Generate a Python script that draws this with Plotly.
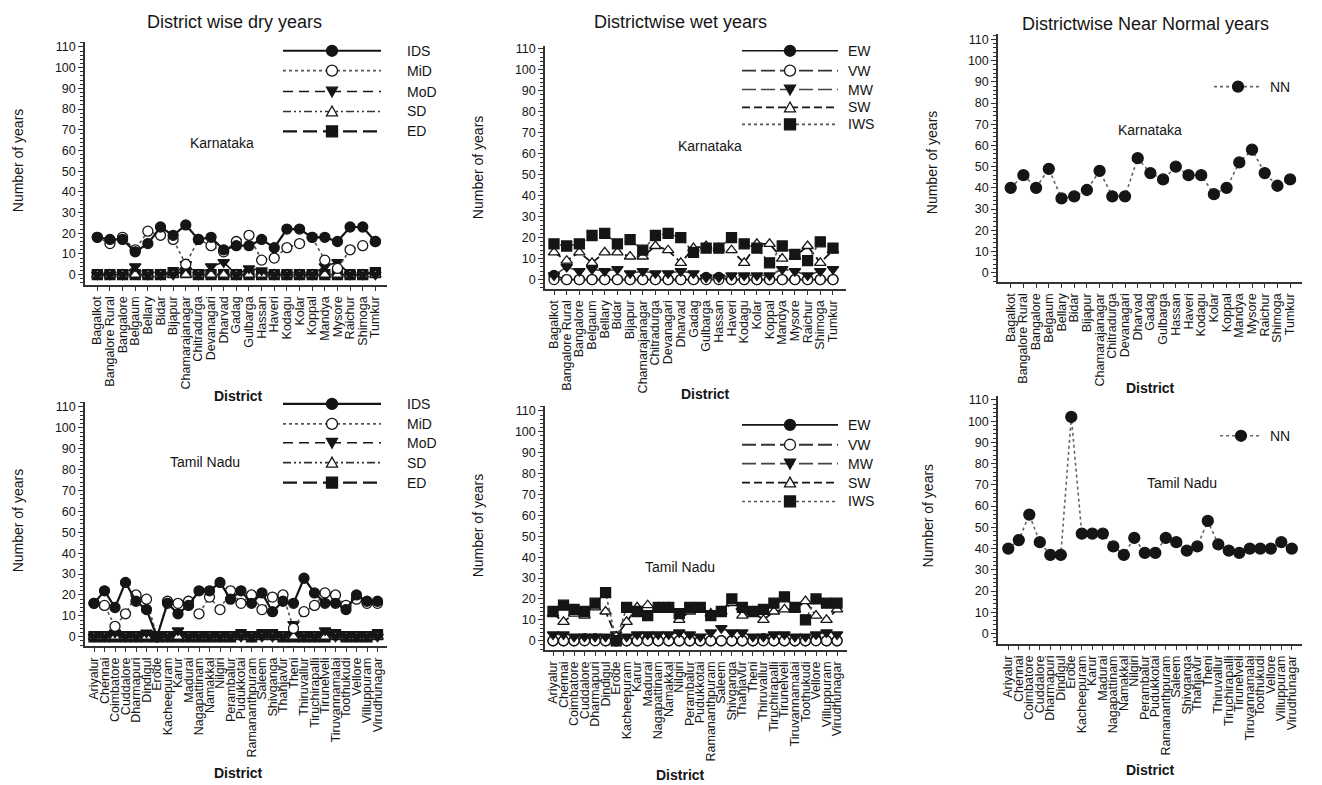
import plotly.graph_objects as go

W, H = 1322, 785

# ---------------- data ----------------
ka_districts = ["Bagalkot", "Bangalore Rural", "Bangalore", "Belgaum", "Bellary", "Bidar", "Bijapur",
                "Chamarajanagar", "Chitradurga", "Devanagari", "Dharvad", "Gadag", "Gulbarga", "Hassan",
                "Haveri", "Kodagu", "Kolar", "Koppal", "Mandya", "Mysore", "Raichur", "Shimoga", "Tumkur"]
tn_districts = ["Ariyalur", "Chennai", "Coimbatore", "Cuddalore", "Dharmapuri", "Dindigul", "Erode",
                "Kacheepuram", "Karur", "Madurai", "Nagapattinam", "Namakkal", "Nilgiri", "Perambalur",
                "Pudukkotai", "Ramananthpuram", "Saleem", "Shivganga", "Thanjavur", "Theni", "Thiruvallur",
                "Tiruchirapalli", "Tirunelveli", "Tiruvannamalai", "Toothukudi", "Vellore", "Villuppuram",
                "Virudhunagar"]

# Karnataka dry
ka_IDS = [18, 17, 17, 11, 15, 23, 19, 24, 17, 18, 12, 14, 14, 17, 13, 22, 22, 18, 18, 16, 23, 23, 16]
ka_MiD = [18, 15, 18, 12, 21, 19, 17, 5, 17, 14, 11, 16, 19, 7, 8, 13, 15, 18, 7, 3, 12, 14, 16]
ka_MoD = [0, 0, 0, 4, 0, 0, 0, 5, 0, 4, 6, 0, 3, 2, 0, 0, 0, 0, 4, 6, 0, 0, 0]
ka_SD = [0, 0, 0, 0, 0, 0, 0, 0, 0, 0, 0, 0, 0, 0, 0, 0, 0, 0, 0, 0, 0, 0, 0]
ka_ED = [0, 0, 0, 0, 0, 0, 1, 1, 0, 0, 0, 0, 0, 0, 0, 0, 0, 0, 0, 0, 0, 0, 1]
# Karnataka wet
ka_EW = [2, 0, 0, 0, 0, 0, 0, 0, 0, 0, 0, 0, 1, 1, 0, 0, 0, 0, 0, 0, 0, 0, 0]
ka_VW = [0, 0, 0, 0, 0, 0, 0, 0, 0, 0, 0, 0, 0, 0, 0, 0, 0, 0, 0, 0, 0, 0, 0]
ka_MW = [2, 6, 4, 5, 4, 5, 3, 4, 3, 3, 4, 3, 1, 1, 2, 2, 2, 2, 5, 4, 2, 4, 5]
ka_SW = [13, 9, 13, 8, 13, 13, 11, 11, 16, 14, 8, 15, 16, 15, 14, 8, 17, 17, 10, 11, 16, 8, 14]
ka_IWS = [17, 16, 17, 21, 22, 17, 19, 14, 21, 22, 20, 13, 15, 15, 20, 17, 15, 8, 16, 12, 9, 18, 15]
# Karnataka near normal
ka_NN = [40, 46, 40, 49, 35, 36, 39, 48, 36, 36, 54, 47, 44, 50, 46, 46, 37, 40, 52, 58, 47, 41, 44]

# Tamil Nadu dry
tn_IDS = [16, 22, 14, 26, 17, 13, 0, 16, 11, 15, 22, 22, 26, 18, 22, 16, 21, 12, 17, 16, 28, 21, 16, 16, 13, 20, 17, 17]
tn_MiD = [16, 15, 5, 11, 20, 18, 0, 17, 16, 17, 11, 19, 13, 22, 16, 20, 13, 19, 20, 4, 12, 15, 21, 20, 15, 18, 16, 16]
tn_MoD = [0, 0, 2, 0, 0, 2, 0, 0, 3, 0, 0, 0, 0, 0, 0, 0, 0, 0, 0, 6, 0, 0, 3, 0, 0, 0, 0, 0]
tn_SD = [0, 0, 0, 0, 0, 0, 0, 0, 0, 0, 0, 0, 0, 0, 0, 0, 0, 0, 0, 0, 0, 0, 0, 0, 0, 0, 0, 0]
tn_ED = [0, 0, 0, 0, 0, 0, 0, 0, 0, 0, 0, 0, 0, 0, 1, 0, 1, 1, 0, 0, 0, 0, 0, 1, 0, 0, 0, 1]
# Tamil Nadu wet
tn_EW = [0, 0, 0, 1, 1, 0, 0, 0, 0, 1, 0, 0, 0, 0, 0, 0, 0, 0, 0, 0, 1, 0, 0, 0, 0, 1, 0, 0]
tn_VW = [0, 0, 0, 0, 0, 0, 0, 0, 0, 0, 0, 0, 0, 0, 0, 0, 0, 0, 0, 0, 0, 0, 0, 0, 0, 0, 0, 0]
tn_MW = [3, 3, 2, 2, 2, 2, 3, 2, 3, 3, 3, 3, 4, 3, 2, 4, 6, 4, 4, 2, 2, 3, 3, 2, 2, 3, 4, 3]
tn_SW = [13, 9, 13, 12, 16, 14, 2, 9, 16, 17, 16, 16, 10, 14, 15, 13, 14, 18, 12, 14, 10, 14, 15, 15, 19, 12, 10, 15]
tn_IWS = [14, 17, 15, 14, 18, 23, 0, 16, 14, 12, 16, 16, 13, 16, 16, 12, 14, 20, 16, 14, 15, 18, 21, 16, 10, 20, 18, 18]
# Tamil Nadu near normal
tn_NN = [40, 44, 56, 43, 37, 37, 102, 47, 47, 47, 41, 37, 45, 38, 38, 45, 43, 39, 41, 53, 42, 39, 38, 40, 40, 40, 43, 40]

y_ticks = list(range(0, 111, 10))

# ---------------- styles ----------------
FONT = "Liberation Sans, Arial, sans-serif"
BLK = "#151515"
DDD = "8px,3px,2px,3px,2px,3px"

STY = {
    "IDS": dict(sym="circle", fill=BLK, dash="solid", lc=BLK, lw=2.2),
    "MiD": dict(sym="circle", fill="white", dash="dot", lc="#555", lw=1.6),
    "MoD": dict(sym="triangle-down", fill=BLK, dash="10px,6px", lc=BLK, lw=1.6),
    "SD": dict(sym="triangle-up", fill="white", dash=DDD, lc="#333", lw=1.6),
    "ED": dict(sym="square", fill=BLK, dash="14px,6px", lc=BLK, lw=2.2),
    "EW": dict(sym="circle", fill=BLK, dash="solid", lc=BLK, lw=1.6),
    "VW": dict(sym="circle", fill="white", dash="14px,5px", lc="#333", lw=1.8),
    "MW": dict(sym="triangle-down", fill=BLK, dash="14px,5px", lc="#444", lw=1.6),
    "SW": dict(sym="triangle-up", fill="white", dash="8px,4px", lc=BLK, lw=1.8),
    "IWS": dict(sym="square", fill=BLK, dash="dot", lc="#555", lw=1.6),
    "NN": dict(sym="circle", fill=BLK, dash="dot", lc="#666", lw=1.6),
}

# panel geometry in pixels: left, right, first category px, category spacing,
# y=0 px, px per unit, bottom px, top px
PANELS = [
    dict(xl=85, xr=387, c0=97.3, dc=12.64, y0=272, k=2.08, yb=282, yt=38),
    dict(xl=545, xr=846, c0=554, dc=12.68, y0=277, k=2.11, yb=286, yt=42),
    dict(xl=998, xr=1302, c0=1010.7, dc=12.7, y0=270, k=2.13, yb=279, yt=30),
    dict(xl=85, xr=387, c0=94, dc=10.5, y0=636, k=2.1, yb=645, yt=400),
    dict(xl=545, xr=847, c0=553, dc=10.52, y0=640, k=2.1, yb=649, yt=404),
    dict(xl=998, xr=1302, c0=1008.3, dc=10.5, y0=632.7, k=2.134, yb=643, yt=394),
]

fig = go.Figure()
layout = dict(width=W, height=H, margin=dict(l=0, r=0, t=0, b=0), paper_bgcolor="white",
              plot_bgcolor="white", showlegend=False, font=dict(family=FONT, color=BLK))


def px(x):
    return x / W


def py(y):
    return 1 - y / H


for i, p in enumerate(PANELS):
    n = "" if i == 0 else str(i + 1)
    cats = ka_districts if i < 3 else tn_districts
    layout["xaxis" + n] = dict(
        domain=[px(p["xl"]), px(p["xr"])], anchor="y" + n, type="category",
        range=[(p["xl"] - p["c0"]) / p["dc"], (p["xr"] - p["c0"]) / p["dc"]],
        tickmode="array", tickvals=cats, ticktext=cats, tickangle=-90,
        tickfont=dict(size=12.5, family=FONT, color=BLK), showline=True, linecolor="#333", linewidth=1.5,
        ticks="outside", ticklen=5, tickcolor="#333", showgrid=False, zeroline=False, fixedrange=True)
    layout["yaxis" + n] = dict(
        domain=[py(p["yb"]), py(p["yt"])], anchor="x" + n,
        range=[(p["y0"] - p["yb"]) / p["k"], (p["y0"] - p["yt"]) / p["k"]],
        tickmode="array", tickvals=y_ticks, tickfont=dict(size=12.5, family=FONT, color=BLK),
        showline=True, linecolor="#333", linewidth=1.5, ticks="outside", ticklen=5, tickcolor="#333",
        minor=dict(dtick=2, tick0=0, ticks="outside", ticklen=3, tickcolor="#333"),
        showgrid=False, zeroline=False, fixedrange=True)


def add_series(panel, cats, vals, key, size=10):
    s = STY[key]
    n = "" if panel == 0 else str(panel + 1)
    fig.add_trace(go.Scatter(
        x=cats, y=vals, mode="lines+markers", name=key, xaxis="x" + n, yaxis="y" + n,
        line=dict(color=s["lc"], width=s["lw"], dash=s["dash"]),
        marker=dict(symbol=s["sym"], size=size, color=s["fill"], line=dict(color=BLK, width=1.3)),
        cliponaxis=False))


for key, vals in [("ED", ka_ED), ("SD", ka_SD), ("MoD", ka_MoD), ("MiD", ka_MiD), ("IDS", ka_IDS)]:
    add_series(0, ka_districts, vals, key)
for key, vals in [("EW", ka_EW), ("VW", ka_VW), ("MW", ka_MW), ("SW", ka_SW), ("IWS", ka_IWS)]:
    add_series(1, ka_districts, vals, key)
add_series(2, ka_districts, ka_NN, "NN", size=11)
for key, vals in [("ED", tn_ED), ("SD", tn_SD), ("MoD", tn_MoD), ("MiD", tn_MiD), ("IDS", tn_IDS)]:
    add_series(3, tn_districts, vals, key)
for key, vals in [("EW", tn_EW), ("VW", tn_VW), ("MW", tn_MW), ("SW", tn_SW), ("IWS", tn_IWS)]:
    add_series(4, tn_districts, vals, key)
add_series(5, tn_districts, tn_NN, "NN", size=11)

# ---------------- legends (drawn as shapes) ----------------
shapes = []
annotations = []


def marker_shape(sym, fill, cx, cy, r=5.5):
    line = dict(color=BLK, width=1.3)
    if sym == "circle":
        return dict(type="circle", xref="paper", yref="paper", x0=px(cx - r), x1=px(cx + r),
                    y0=py(cy + r), y1=py(cy - r), fillcolor=fill, line=line, layer="above")
    if sym == "square":
        return dict(type="rect", xref="paper", yref="paper", x0=px(cx - r), x1=px(cx + r),
                    y0=py(cy + r), y1=py(cy - r), fillcolor=fill, line=line, layer="above")
    if sym == "triangle-down":
        pts = [(cx - r, cy - r * 0.8), (cx + r, cy - r * 0.8), (cx, cy + r)]
    else:
        pts = [(cx - r, cy + r * 0.8), (cx + r, cy + r * 0.8), (cx, cy - r)]
    path = "M" + " L".join(f"{px(a):.5f},{py(b):.5f}" for a, b in pts) + " Z"
    return dict(type="path", xref="paper", yref="paper", path=path, fillcolor=fill, line=line, layer="above")


def legend(keys, ys, x0, x1, lx):
    for key, y in zip(keys, ys):
        s = STY[key]
        shapes.append(dict(type="line", xref="paper", yref="paper", x0=px(x0), x1=px(x1), y0=py(y), y1=py(y),
                           line=dict(color=s["lc"], width=s["lw"], dash=s["dash"])))
        shapes.append(marker_shape(s["sym"], s["fill"], (x0 + x1) / 2, y))
        annotations.append(dict(text=key, xref="paper", yref="paper", x=px(lx), y=py(y), xanchor="left",
                                yanchor="middle", showarrow=False, font=dict(size=14, family=FONT, color=BLK)))


legend(["IDS", "MiD", "MoD", "SD", "ED"], [47, 67, 88, 108, 128], 283, 381, 405)
legend(["EW", "VW", "MW", "SW", "IWS"], [47, 67, 86, 104, 121], 742, 838, 846)
legend(["NN"], [83], 1214, 1262, 1268)
legend(["IDS", "MiD", "MoD", "SD", "ED"], [402, 422, 441, 461, 481], 283, 381, 405)
legend(["EW", "VW", "MW", "SW", "IWS"], [423, 443, 462, 481, 500], 742, 838, 846)
legend(["NN"], [434], 1220, 1262, 1268)


def text(t, x, y, size, bold=False, angle=0):
    annotations.append(dict(text=("<b>%s</b>" % t) if bold else t, xref="paper", yref="paper", x=px(x), y=py(y),
                            xanchor="center", yanchor="middle", showarrow=False, textangle=angle,
                            font=dict(size=size, family=FONT, color=BLK)))


# titles
text("District wise dry years", 235, 18, 18)
text("Districtwise wet years", 680, 18, 18)
text("Districtwise Near Normal years", 1145, 20, 18)
# state labels
text("Karnataka", 222, 140, 14)
text("Karnataka", 710, 143, 14)
text("Karnataka", 1150, 127, 14)
text("Tamil Nadu", 205, 460, 14)
text("Tamil Nadu", 680, 566, 14)
text("Tamil Nadu", 1182, 481, 14)
# axis titles
for (x, y) in [(18, 158), (478, 165), (932, 160), (18, 520), (478, 525), (928, 515)]:
    text("Number of years", x, y, 14, angle=-90)
for (x, y) in [(238, 394), (705, 392), (1150, 386), (238, 773), (680, 775), (1150, 770)]:
    text("District", x, y, 14, bold=True)

layout["shapes"] = shapes
layout["annotations"] = annotations
fig.update_layout(**layout)

fig.write_html("out.html", config={"displayModeBar": False},
               post_script="document.body.style.margin='0';document.body.style.overflow='hidden';")
